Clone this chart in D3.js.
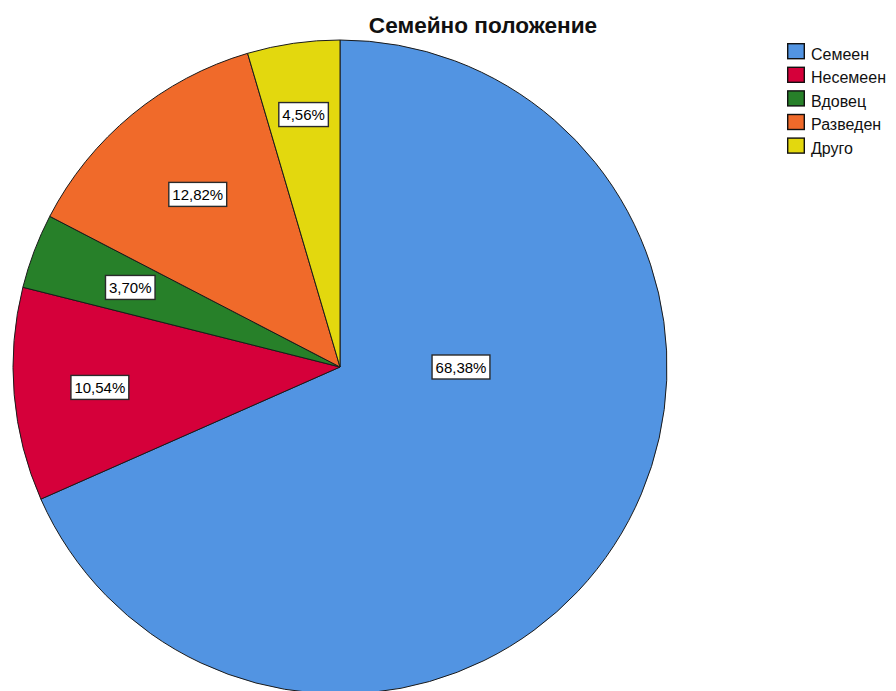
<!DOCTYPE html>
<html>
<head>
<meta charset="utf-8">
<script src="https://cdn.jsdelivr.net/npm/d3@7"></script>
<style>
  html, body { margin: 0; padding: 0; background: #fff; }
  svg { display: block; }
  text { font-family: Arial, "Liberation Sans", sans-serif; }
</style>
</head>
<body>
<svg id="chart" width="896" height="691"></svg>
<script>
// Marital status shares
const categories = ["Семеен", "Несемеен", "Вдовец", "Разведен", "Друго"];
const values = [68.38, 10.54, 3.70, 12.82, 4.56];
const colors = ["#5294e2", "#d5003a", "#278029", "#f06a2a", "#e3d80e"];
const title = "Семейно положение";

const W = 896, H = 691;
const cx = 340, cy = 367, R = 327;

const svg = d3.select("#chart");

const pie = d3.pie().sort(null).value(d => d.v);
const data = categories.map((c, i) => ({ c, v: values[i], col: colors[i] }));
const arcs = pie(data);

const arc = d3.arc().innerRadius(0).outerRadius(R);

const g = svg.append("g").attr("transform", `translate(${cx},${cy})`);

g.selectAll("path.slice")
  .data(arcs)
  .join("path")
  .attr("class", "slice")
  .attr("d", arc)
  .attr("fill", d => d.data.col)
  .attr("stroke", "#1a1a1a")
  .attr("stroke-width", 1);

// label placement: fraction of radius along the slice bisector;
// the dominant slice gets its label pulled toward the open side
const labelFrac = [0.37, 0.737, 0.686, 0.684, 0.78];
const labelAngle = (d, i) => i === 0 ? Math.PI / 2 : (d.startAngle + d.endAngle) / 2;
const fmt = v => v.toFixed(2).replace(".", ",") + "%";

const lbl = g.selectAll("g.lbl")
  .data(arcs)
  .join("g")
  .attr("class", "lbl")
  .attr("transform", (d, i) => {
    const a = labelAngle(d, i), r = R * labelFrac[i];
    return `translate(${r * Math.sin(a)},${-r * Math.cos(a)})`;
  });

lbl.each(function (d) {
  const sel = d3.select(this);
  const t = sel.append("text")
    .attr("text-anchor", "middle")
    .attr("dy", "0.37em")
    .attr("font-size", 15)
    .attr("fill", "#000")
    .text(fmt(d.data.v));
  const bb = t.node().getBBox();
  sel.insert("rect", "text")
    .attr("x", bb.x - 3.5)
    .attr("y", -12)
    .attr("width", bb.width + 7)
    .attr("height", 24)
    .attr("fill", "#fff")
    .attr("stroke", "#2a2a2a")
    .attr("stroke-width", 1.4);
});

// title
svg.append("text")
  .attr("x", 483)
  .attr("y", 33)
  .attr("text-anchor", "middle")
  .attr("font-size", 22.6)
  .attr("font-weight", "bold")
  .attr("fill", "#111")
  .text(title);

// legend
const legend = svg.append("g").attr("transform", "translate(787,43)");
const rowH = 23.6;
const items = legend.selectAll("g")
  .data(data)
  .join("g")
  .attr("transform", (d, i) => `translate(0,${i * rowH})`);
items.append("rect")
  .attr("x", 0.7).attr("y", 0.7)
  .attr("width", 16.6).attr("height", 15)
  .attr("fill", d => d.col)
  .attr("stroke", "#111")
  .attr("stroke-width", 1.4);
items.append("text")
  .attr("x", 24)
  .attr("y", 16.5)
  .attr("font-size", 16)
  .attr("fill", "#111")
  .text(d => d.c);
</script>
</body>
</html>
